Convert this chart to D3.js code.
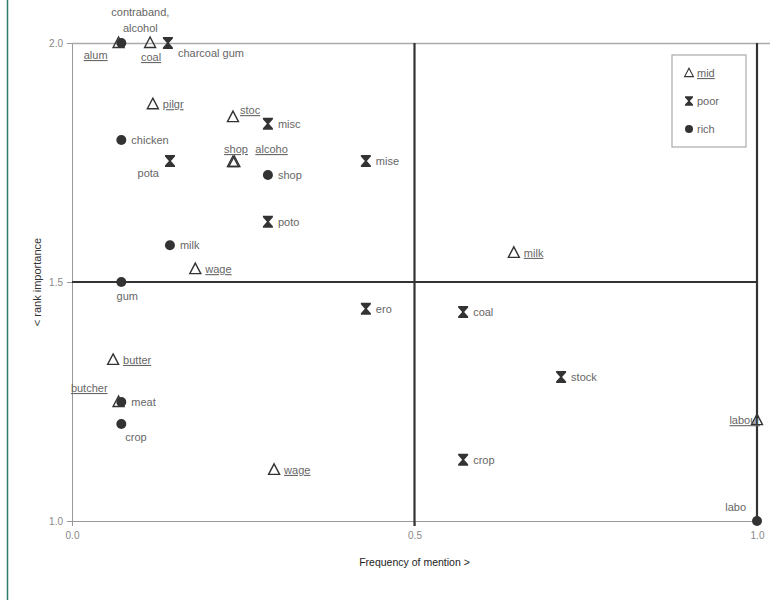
<!DOCTYPE html>
<html>
<head>
<meta charset="utf-8">
<script src="https://cdn.jsdelivr.net/npm/d3@7"></script>
<style>
  body { margin: 0; background: #fff; }
  text { font-family: "Liberation Sans", Arial, sans-serif; }
</style>
</head>
<body>
<div id="chart"></div>
<script>
// groups: mid (triangle, underlined label), poor (hourglass), rich (dot)
const labels = ["contraband,\nalcohol", "alum", "coal", "charcoal gum", "pilgr", "chicken", "pota",
  "stoc", "misc", "shop", "alcoho", "shop", "mise", "poto", "milk", "wage", "gum", "milk",
  "ero", "coal", "stock", "crop", "wage", "butter", "butcher", "meat", "crop", "labour", "labo"];
const groups = ["rich", "mid", "mid", "poor", "mid", "rich", "poor",
  "mid", "poor", "mid", "mid", "rich", "poor", "poor", "rich", "mid", "rich", "mid",
  "poor", "poor", "poor", "poor", "mid", "mid", "mid", "rich", "rich", "mid", "rich"];
const freq = [0.072, 0.068, 0.114, 0.140, 0.118, 0.072, 0.143,
  0.235, 0.286, 0.235, 0.237, 0.286, 0.429, 0.286, 0.143, 0.180, 0.072, 0.645,
  0.429, 0.571, 0.714, 0.571, 0.295, 0.060, 0.068, 0.072, 0.072, 1.0, 1.0];
const rank = [2.0, 2.0, 2.0, 2.0, 1.872, 1.797, 1.753,
  1.845, 1.831, 1.751, 1.751, 1.724, 1.753, 1.626, 1.577, 1.527, 1.5, 1.561,
  1.444, 1.437, 1.301, 1.128, 1.107, 1.337, 1.249, 1.249, 1.203, 1.211, 1.0];
// where each label sits relative to its mark
const labelSide = ["top", "belowLeft", "below", "rightLow", "right", "right", "belowLeft",
  "aboveRight", "right", "above", "aboveFar", "right", "right", "right", "right", "right", "belowGum", "right",
  "right", "right", "right", "right", "right", "right", "aboveLeft", "right", "belowRight", "leftEdge", "aboveLeft"];
const xTicks = [0, 0.5, 1];
const yTicks = [1, 1.5, 2];
const legendItems = ["mid", "poor", "rich"];

const width = 779, height = 610;
const margin = { top: 43, right: 22, bottom: 89, left: 72 };
const innerW = width - margin.left - margin.right;
const innerH = height - margin.top - margin.bottom;

const svg = d3.select("#chart").append("svg")
  .attr("width", width).attr("height", height);

// page frame line on the left
svg.append("line").attr("x1", 7.5).attr("x2", 7.5).attr("y1", 0).attr("y2", 600)
  .attr("stroke", "#2f7a6a").attr("stroke-width", 1.5);

const g = svg.append("g").attr("transform", `translate(${margin.left},${margin.top})`);

const x = d3.scaleLinear().domain([0, 1]).range([0, innerW]);
const y = d3.scaleLinear().domain([1, 2]).range([innerH, 0]);

// axes
const xAxis = g.append("g").attr("transform", `translate(0,${innerH})`)
  .call(d3.axisBottom(x).tickValues(xTicks).tickFormat(d3.format(".1f")).tickSize(5).tickPadding(6));
const yAxis = g.append("g")
  .call(d3.axisLeft(y).tickValues(yTicks).tickFormat(d3.format(".1f")).tickSize(5).tickPadding(4));
[xAxis, yAxis].forEach(a => {
  a.select(".domain").attr("stroke", "#999");
  a.selectAll(".tick line").attr("stroke", "#999");
  a.selectAll(".tick text").attr("fill", "#888").style("font-size", "10px");
});

// top border
g.append("line").attr("x1", 0).attr("x2", innerW + 13).attr("y1", 0.5).attr("y2", 0.5)
  .attr("stroke", "#aaa").attr("stroke-width", 1.5);

// quadrant lines
g.append("line").attr("x1", 0).attr("x2", x(1)).attr("y1", y(1.5)).attr("y2", y(1.5))
  .attr("stroke", "#333").attr("stroke-width", 2.2);
g.append("line").attr("x1", x(0.5)).attr("x2", x(0.5)).attr("y1", 0).attr("y2", innerH + 5)
  .attr("stroke", "#333").attr("stroke-width", 2.2);
g.append("line").attr("x1", x(1)).attr("x2", x(1)).attr("y1", 0).attr("y2", innerH)
  .attr("stroke", "#333").attr("stroke-width", 2.2);

// axis titles
svg.append("text").attr("x", margin.left + x(0.5)).attr("y", 566)
  .attr("text-anchor", "middle").attr("fill", "#222").style("font-size", "10.5px")
  .text("Frequency of mention >");
svg.append("text").attr("transform", `translate(41,${margin.top + y(1.5)}) rotate(-90)`)
  .attr("text-anchor", "middle").attr("fill", "#333").style("font-size", "11px")
  .text("< rank importance");

const markColor = "#333";
function drawMark(sel, grp) {
  if (grp === "mid") {
    sel.append("path").attr("d", "M0,-6L5.5,4.5L-5.5,4.5Z")
      .attr("fill", "none").attr("stroke", markColor).attr("stroke-width", 1.4);
  } else if (grp === "poor") {
    sel.append("path").attr("d", "M-5,-6H5V-4.5L1,0L5,4.5V6H-5V4.5L-1,0L-5,-4.5Z")
      .attr("fill", markColor);
  } else {
    sel.append("circle").attr("r", 5).attr("fill", markColor);
  }
}

const placement = {
  right: [10, 4, "start"],
  rightLow: [10, 14, "start"],
  belowLeft: [-11, 16, "end"],
  below: [1, 18, "middle"],
  belowGum: [6, 18, "middle"],
  belowRight: [4, 17, "start"],
  above: [3, -9, "middle"],
  aboveFar: [21, -9, "start"],
  aboveRight: [7, -3, "start"],
  aboveLeft: [-11, -10, "end"],
  leftEdge: [3, 4, "end"],
  top: [19, -27, "middle"]
};

const points = labels.map((l, i) => ({ label: l, group: groups[i], fx: freq[i], ry: rank[i], side: labelSide[i] }));

const pg = g.append("g").selectAll("g.pt").data(points).join("g")
  .attr("class", "pt")
  .attr("transform", d => `translate(${x(d.fx)},${y(d.ry)})`);
pg.each(function (d) { drawMark(d3.select(this), d.group); });

pg.each(function (d) {
  const [dx, dy, anchor] = placement[d.side];
  const t = d3.select(this).append("text")
    .attr("x", dx).attr("y", dy).attr("text-anchor", anchor)
    .attr("fill", "#666").style("font-size", "11px")
    .style("text-decoration", d.group === "mid" ? "underline" : null);
  d.label.split("\n").forEach((line, k) => {
    t.append("tspan").attr("x", dx).attr("dy", k === 0 ? 0 : 16).text(line);
  });
});

// legend
const lg = svg.append("g").attr("transform", "translate(672,55)");
lg.append("rect").attr("width", 74).attr("height", 92)
  .attr("fill", "#fff").attr("stroke", "#aaa").attr("stroke-width", 1.2);
legendItems.forEach((grp, i) => {
  const row = lg.append("g").attr("transform", `translate(${17},${18 + i * 28})`);
  const m = row.append("g").attr("transform", "scale(0.8)");
  drawMark(m, grp);
  row.append("text").attr("x", 8).attr("y", 4)
    .attr("fill", "#666").style("font-size", "11px")
    .style("text-decoration", grp === "mid" ? "underline" : null)
    .text(grp);
});
</script>
</body>
</html>
